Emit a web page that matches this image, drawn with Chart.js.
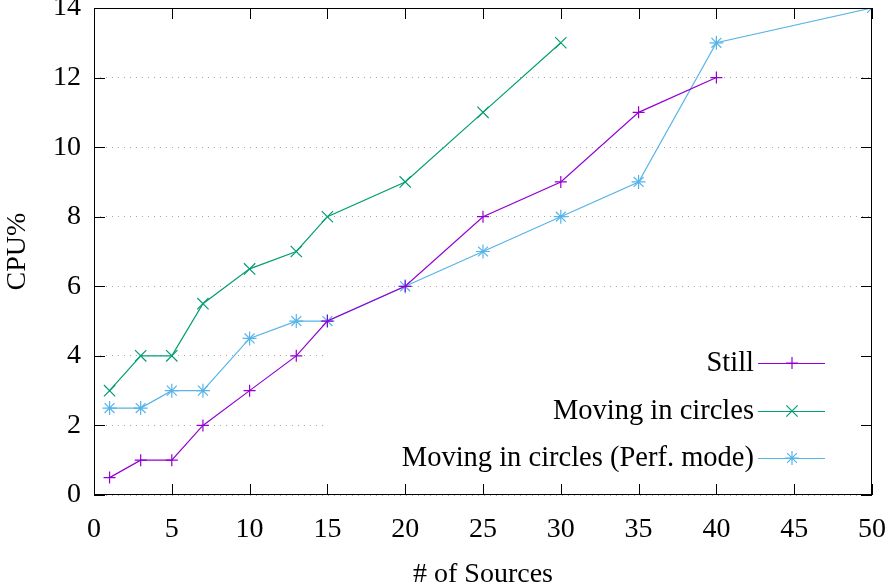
<!DOCTYPE html>
<html>
<head>
<meta charset="utf-8">
<script src="https://cdn.jsdelivr.net/npm/chart.js@4.4.0/dist/chart.umd.min.js"></script>
<style>
  html, body { margin: 0; padding: 0; background: #fff; }
  #wrap { width: 892px; height: 587px; }
</style>
</head>
<body>
<div id="wrap"><canvas id="cpu"></canvas></div>
<script>
// datos
const sources = [1, 3, 5, 7, 10, 13, 15, 20, 25, 30, 35, 40, 50];
const still = [0.5, 1, 1, 2, 3, 4, 5, 6, 8, 9, 11, 12];
const moving = [3, 4, 4, 5.5, 6.5, 7, 8, 9, 11, 13];
const perfMode = [2.5, 2.5, 3, 3, 4.5, 5, 5, 6, 7, 8, 9, 13, 14];
const seriesNames = ['Still', 'Moving in circles', 'Moving in circles (Perf. mode)'];
const xTicks = [0, 5, 10, 15, 20, 25, 30, 35, 40, 45, 50];
const yTicks = [0, 2, 4, 6, 8, 10, 12, 14];

const FONT = '"Liberation Serif", "DejaVu Serif", serif';
const toPoints = vals => vals.map((v, i) => ({ x: sources[i], y: v }));

// caja de la leyenda (fondo blanco que tapa la rejilla)
const legendBox = { left: 323, right: 871, top: 335, bottom: 482 };

const gnuplotLook = {
  id: 'gnuplotLook',
  beforeDatasetsDraw(chart) {
    const ctx = chart.ctx;
    ctx.save();
    ctx.fillStyle = '#fff';
    ctx.fillRect(legendBox.left, legendBox.top, legendBox.right - legendBox.left, legendBox.bottom - legendBox.top);
    ctx.restore();
  },
  afterDraw(chart) {
    const ctx = chart.ctx;
    const a = chart.chartArea;
    const xs = chart.scales.x, ys = chart.scales.y;
    ctx.save();
    ctx.strokeStyle = '#000';
    ctx.lineWidth = 1;
    ctx.strokeRect(a.left + 0.5, a.top + 0.5, a.right - a.left - 1, a.bottom - a.top - 1);
    ctx.beginPath();
    const tl = 11;
    xTicks.forEach(t => {
      const px = Math.round(xs.getPixelForValue(t)) + 0.5;
      ctx.moveTo(px, a.bottom); ctx.lineTo(px, a.bottom - tl);
      ctx.moveTo(px, a.top); ctx.lineTo(px, a.top + tl);
    });
    yTicks.forEach(t => {
      const py = Math.round(ys.getPixelForValue(t)) + 0.5;
      ctx.moveTo(a.left, py); ctx.lineTo(a.left + tl, py);
      ctx.moveTo(a.right, py); ctx.lineTo(a.right - tl, py);
    });
    ctx.stroke();

    // leyenda estilo gnuplot
    ctx.font = '28.5px ' + FONT;
    ctx.textAlign = 'right';
    ctx.textBaseline = 'middle';
    const rows = [363, 411, 458];
    chart.data.datasets.forEach((ds, i) => {
      const y = rows[i];
      ctx.fillStyle = '#000';
      ctx.fillText(ds.label, 754, y + 1);
      ctx.strokeStyle = ds.borderColor;
      ctx.lineWidth = 1.2;
      ctx.beginPath();
      ctx.moveTo(758, y + 0.5); ctx.lineTo(825, y + 0.5);
      ctx.stroke();
      Chart.helpers.drawPoint(ctx, {
        pointStyle: ds.pointStyle, radius: ds.pointRadius, rotation: 0, borderWidth: 1.2
      }, 792, y);
    });
    ctx.restore();
  }
};

const makeSet = (label, vals, color, style, r) => ({
  label: label,
  data: toPoints(vals),
  borderColor: color,
  backgroundColor: color,
  borderWidth: 1.2,
  pointStyle: style,
  pointRadius: r,
  pointBorderWidth: 1.2,
  tension: 0
});

new Chart(document.getElementById('cpu'), {
  type: 'line',
  data: {
    datasets: [
      makeSet(seriesNames[0], still, '#9400d3', 'cross', 6),
      makeSet(seriesNames[1], moving, '#009e73', 'crossRot', 8),
      makeSet(seriesNames[2], perfMode, '#56b4e9', 'star', 7)
    ]
  },
  options: {
    responsive: true,
    maintainAspectRatio: false,
    animation: false,
    layout: { autoPadding: false, padding: { top: 8, right: 20, left: 0, bottom: 0 } },
    plugins: { legend: { display: false }, tooltip: { enabled: false } },
    scales: {
      x: {
        type: 'linear',
        min: 0, max: 50,
        afterBuildTicks: s => { s.ticks = xTicks.map(v => ({ value: v })); },
        afterFit: s => { s.height = 92; s.paddingLeft = 0; s.paddingRight = 0; },
        grid: { display: false, drawTicks: false },
        border: { display: false },
        ticks: { color: '#000', font: { family: FONT, size: 28 }, padding: 18, maxRotation: 0 },
        title: { display: true, text: '# of Sources', color: '#000', font: { family: FONT, size: 28, lineHeight: 0.9 }, padding: { top: 0, bottom: 0 } }
      },
      y: {
        min: 0, max: 14,
        afterBuildTicks: s => { s.ticks = yTicks.map(v => ({ value: v })); },
        afterFit: s => { s.width = 94; s.paddingTop = 0; s.paddingBottom = 0; },
        grid: { color: '#a8a8a8', lineWidth: 1, drawTicks: false },
        border: { display: false, dash: [1, 5] },
        ticks: { color: '#000', font: { family: FONT, size: 28 }, padding: 13 },
        title: { display: true, text: 'CPU%', color: '#000', font: { family: FONT, size: 28 }, padding: 1 }
      }
    }
  },
  plugins: [gnuplotLook]
});
</script>
</body>
</html>
